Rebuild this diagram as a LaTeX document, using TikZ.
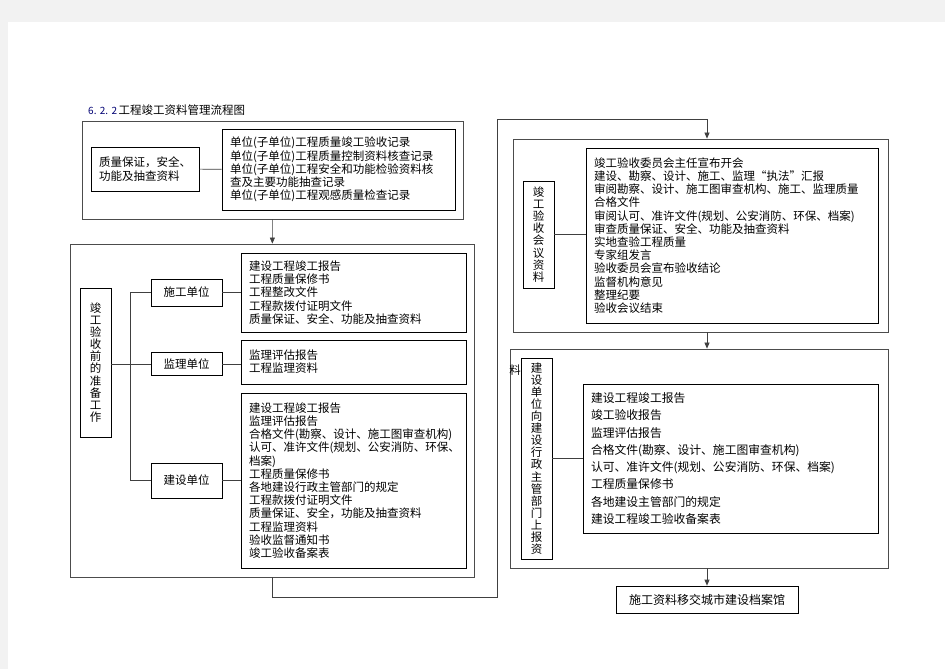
\documentclass[tikz,border=0pt]{standalone}
\usepackage{fontspec}
\setmainfont{Noto Sans CJK SC}
\usetikzlibrary{arrows.meta,positioning,calc}
\newcommand{\boxfont}{\fontsize{11.5}{13.2}\selectfont}
\newcommand{\wideboxfont}{\fontsize{11.8}{17.3}\selectfont}
\newcommand{\stackfont}{\fontsize{11.5}{12.1}\selectfont}
\tikzset{
  panel/.style={draw=black!70, line width=0.8pt, inner sep=0pt},
  unitbox/.style={draw, line width=0.7pt, font=\boxfont, inner sep=0pt},
  docbox/.style={draw, line width=0.7pt, font=\boxfont, align=left, inner xsep=8pt, inner ysep=0pt},
  stackbox/.style={draw, line width=0.7pt, font=\stackfont, align=center, inner sep=0pt, minimum width=31},
  link/.style={draw=black!75, line width=0.7pt},
  flow/.style={link, -{Triangle[length=6pt,width=5pt]}}
}
\begin{document}
\begin{tikzpicture}[x=1pt, y=-1pt]
  % page
  \fill[gray!10] (0,0) rectangle (945,669);
  \fill[white] (8,22) rectangle (945,669);
  \useasboundingbox (0,0) rectangle (945,669);

  % title
  \node[anchor=west, font=\boxfont, inner sep=0pt] (title) at (88,110) {{\color{blue!45!black}\fontsize{10}{12}\selectfont 6.\,\,2.\,\,2\,}工程竣工资料管理流程图};

  % block 1
  \node[panel, minimum width=381, minimum height=98] (box1) at (272.5,170) {};
  \node[unitbox, align=left, minimum width=108, minimum height=44] (qcheck) at (145,169) {质量保证，安全、\\功能及抽查资料};
  \node[docbox, text width=217, minimum height=81] (record) at (338.5,169.5) {单位(子单位)工程质量竣工验收记录\\单位(子单位)工程质量控制资料核查记录\\单位(子单位)工程安全和功能检验资料核\\查及主要功能抽查记录\\单位(子单位)工程观感质量检查记录};

  % block 2
  \node[panel, minimum width=404, minimum height=333] (box2) at (272,410.5) {};
  \node[stackbox, minimum height=149] (prep) at (95.5,362.5) {竣\\工\\验\\收\\前\\的\\准\\备\\工\\作};
  \node[unitbox, minimum width=71, minimum height=27] (sg) at (186.5,292.5) {施工单位};
  \node[unitbox, minimum width=71, minimum height=23] (jl) at (186.5,364) {监理单位};
  \node[unitbox, minimum width=71, minimum height=35] (js) at (186.5,480.5) {建设单位};
  \node[docbox, text width=209, minimum height=79] (sgdoc) at (353.5,292.5) {建设工程竣工报告\\工程质量保修书\\工程整改文件\\工程款拨付证明文件\\质量保证、安全、功能及抽查资料};
  \node[docbox, text width=209, minimum height=44] (jldoc) at (353.5,362) {监理评估报告\\工程监理资料};
  \node[docbox, text width=209, minimum height=175] (jsdoc) at (353.5,480.5) {建设工程竣工报告\\监理评估报告\\合格文件(勘察、设计、施工图审查机构)\\认可、准许文件(规划、公安消防、环保、\\档案)\\工程质量保修书\\各地建设行政主管部门的规定\\工程款拨付证明文件\\质量保证、安全，功能及抽查资料\\工程监理资料\\验收监督通知书\\竣工验收备案表};

  % block 3
  \node[panel, minimum width=375, minimum height=193] (box3) at (700.5,235.5) {};
  \node[stackbox, minimum height=107] (meeting) at (538.5,234.5) {竣\\工\\验\\收\\会\\议\\资\\料};
  \node[docbox, text width=276, minimum height=175] (meetdoc) at (732,235.5) {竣工验收委员会主任宣布开会\\建设、勘察、设计、施工、监理“执法”汇报\\审阅勘察、设计、施工图审查机构、施工、监理质量\\合格文件\\审阅认可、准许文件(规划、公安消防、环保、档案)\\审查质量保证、安全、功能及抽查资料\\实地查验工程质量\\专家组发言\\验收委员会宣布验收结论\\监督机构意见\\整理纪要\\验收会议结束};

  % block 4
  \node[panel, minimum width=378, minimum height=219] (box4) at (699,458.5) {};
  \node[stackbox, minimum height=201] (report) at (536.5,458.5) {建\\设\\单\\位\\向\\建\\设\\行\\政\\主\\管\\部\\门\\上\\报\\资};
  \node[font=\boxfont, inner sep=0pt] (spill) at (515,370) {料};
  \node[docbox, font=\wideboxfont, text width=279, minimum height=149] (reportdoc) at (730.5,458.5) {建设工程竣工报告\\竣工验收报告\\监理评估报告\\合格文件(勘察、设计、施工图审查机构)\\认可、准许文件(规划、公安消防、环保、档案)\\工程质量保修书\\各地建设主管部门的规定\\建设工程竣工验收备案表};

  % archive
  \node[unitbox, font=\fontsize{12}{14}\selectfont, minimum width=182, minimum height=27] (final) at (707,599.5) {施工资料移交城市建设档案馆};

  % links
  \draw[link] (qcheck) -- (record);
  \draw[link] (prep.east |- jl) -- (jl.west);
  \draw[link] (sg.west) -- ++(-20,0) |- (js.west);
  \draw[link] (sg) -- (sgdoc);
  \draw[link] (jl.east) -- (jl.east -| jldoc.west);
  \draw[link] (js) -- (jsdoc);
  \draw[link] (meeting.east) -- (meeting.east -| meetdoc.west);
  \draw[link] (report) -- (reportdoc);

  % flow
  \coordinate (bend1) at (497,597);
  \coordinate (bend2) at (497,119);
  \draw[flow] (box1) -- (box2);
  \draw[flow] (box2.south) |- (bend1) -- (bend2) -| (box3.north -| final.north);
  \draw[flow] (box3.south -| final.north) -- (box4.north -| final.north);
  \draw[flow] (box4.south -| final.north) -- (final.north);
\end{tikzpicture}
\end{document}
